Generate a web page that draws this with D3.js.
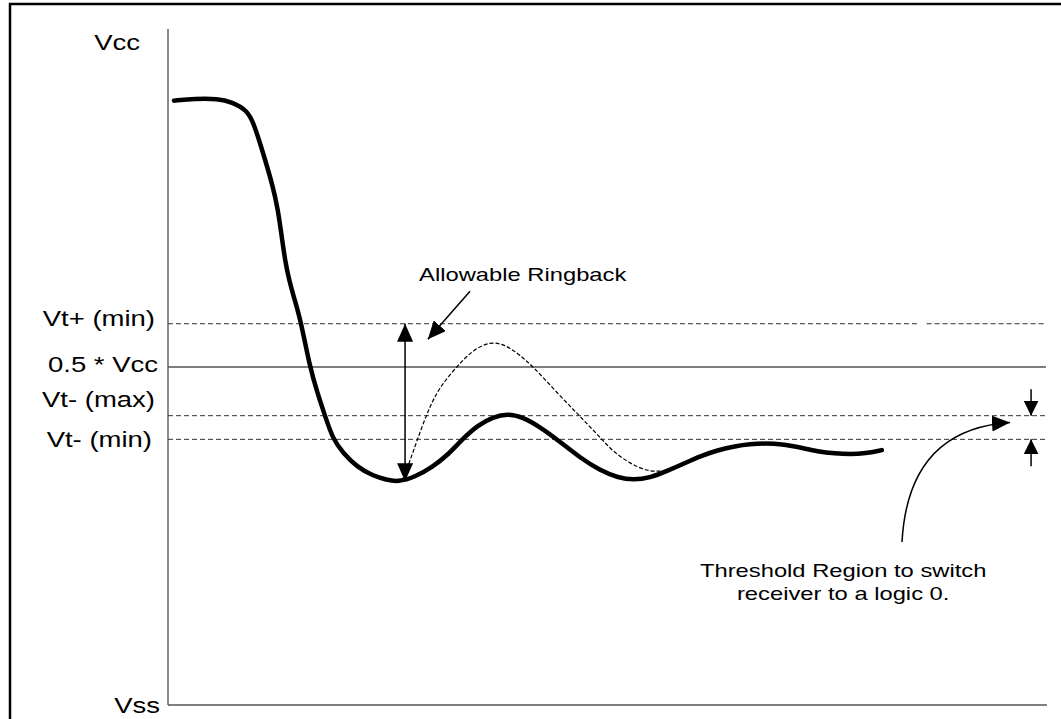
<!DOCTYPE html>
<html>
<head>
<meta charset="utf-8">
<script src="https://cdn.jsdelivr.net/npm/d3@7"></script>
<style>
  html, body { margin: 0; padding: 0; background: #fff; }
  svg { display: block; }
  text { font-family: "Liberation Sans", Arial, sans-serif; fill: #000; }
</style>
</head>
<body>
<svg id="chart" width="1061" height="719"></svg>
<script>
// ---- data (time in ns, voltage as fraction of Vcc) ----
const levelNames  = ["Vcc", "Vt+ (min)", "0.5 * Vcc", "Vt- (max)", "Vt- (min)", "Vss"];
const levelValues = [1.0, 0.564, 0.5, 0.428, 0.393, 0.0];

const signalTime = [0.68, 3.08, 5.69, 7.29, 9.0, 9.79, 10.82, 11.96, 12.53, 12.93, 13.33, 13.78, 14.41, 15.15,
  16.17, 17.08, 17.88, 18.79, 19.93, 21.53, 23.35, 24.9, 26.2, 28.1, 30.1, 31.8, 33.5, 35.3, 37.0, 38.7,
  40.4, 42.4, 44.6, 46.9, 49.2, 51.3, 53.0, 54.9, 56.8, 58.9, 60.6, 62.6, 64.6, 66.3, 68.0, 69.9, 72.0,
  74.0, 76.0, 77.7, 79.4, 81.3];
const signalVolt = [0.894, 0.897, 0.897, 0.892, 0.880, 0.860, 0.817, 0.767, 0.732, 0.695, 0.658, 0.629, 0.600, 0.567,
  0.499, 0.459, 0.428, 0.393, 0.373, 0.352, 0.339, 0.333, 0.330, 0.337, 0.352, 0.369, 0.393, 0.414, 0.426, 0.431,
  0.426, 0.411, 0.390, 0.366, 0.347, 0.336, 0.333, 0.336, 0.346, 0.358, 0.368, 0.377, 0.383, 0.386, 0.387, 0.386, 0.381,
  0.375, 0.372, 0.371, 0.372, 0.377];

const ringTime = [26.65, 27.22, 27.9, 28.82, 29.84, 30.98, 32.92, 34.62, 36.67, 38.38, 39.86, 41.57, 44.31, 46.92,
  49.2, 50.68, 52.62, 54.9, 56.95, 58.66];
const ringVolt = [0.332, 0.349, 0.374, 0.408, 0.442, 0.471, 0.501, 0.524, 0.538, 0.533, 0.520, 0.501, 0.462, 0.427,
  0.396, 0.375, 0.357, 0.344, 0.347, 0.356];

const ringbackLabel = "Allowable Ringback";
const thresholdLabel = ["Threshold Region to switch", "receiver to a logic 0."];

// ---- layout ----
const svg = d3.select("#chart");
const x = d3.scaleLinear().domain([0, 100]).range([168, 1046]);
const y = d3.scaleLinear().domain([0, 1]).range([705, 29]);

// defs: arrowheads
const defs = svg.append("defs");
defs.append("marker")
  .attr("id", "arrow")
  .attr("markerUnits", "userSpaceOnUse")
  .attr("viewBox", "0 0 18 16")
  .attr("refX", 18).attr("refY", 8)
  .attr("markerWidth", 18).attr("markerHeight", 16)
  .attr("orient", "auto-start-reverse")
  .append("path").attr("d", "M0,0 L18,8 L0,16 Z").attr("fill", "#000");
defs.append("marker")
  .attr("id", "arrowS")
  .attr("markerUnits", "userSpaceOnUse")
  .attr("viewBox", "0 0 15 15")
  .attr("refX", 15).attr("refY", 7.5)
  .attr("markerWidth", 15).attr("markerHeight", 15)
  .attr("orient", "auto-start-reverse")
  .append("path").attr("d", "M0,0 L15,7.5 L0,15 Z").attr("fill", "#000");

// frame
svg.append("path").attr("d", "M10,719 L10,4 L1061,4")
  .attr("fill", "none").attr("stroke", "#000").attr("stroke-width", 2.5);

// axes (left vertical and bottom)
svg.append("line").attr("x1", x(0)).attr("x2", x(0)).attr("y1", y(1)).attr("y2", y(0))
  .attr("stroke", "#666").attr("stroke-width", 1.5);
svg.append("line").attr("x1", x(0)).attr("x2", x(100.1)).attr("y1", y(0)).attr("y2", y(0))
  .attr("stroke", "#555").attr("stroke-width", 1.5);

// threshold level lines
const lvl = levelNames.map((n, i) => ({ name: n, v: levelValues[i] }));
lvl.filter(d => d.v > 0 && d.v < 1).forEach(d => {
  const solid = d.name === "0.5 * Vcc";
  const segs = d.name === "Vt+ (min)" ? [[0, 85.3], [86.4, 100]] : [[0, 100]];
  segs.forEach(s => {
    svg.append("line")
      .attr("x1", x(s[0])).attr("x2", x(s[1]))
      .attr("y1", y(d.v)).attr("y2", y(d.v))
      .attr("stroke", solid ? "#555" : "#333")
      .attr("stroke-width", solid ? 1.4 : 1)
      .attr("stroke-dasharray", solid ? null : "5,3");
  });
});

// level labels (right-aligned, horizontally stretched font)
const labelDx = { "Vcc": -28, "Vt+ (min)": -13, "0.5 * Vcc": -10, "Vt- (max)": -13, "Vt- (min)": -16, "Vss": -8 };
const labelDy = { "Vcc": 21, "Vt+ (min)": 2, "0.5 * Vcc": 5, "Vt- (max)": -9, "Vt- (min)": 8, "Vss": 8 };
lvl.forEach(d => {
  svg.append("text")
    .attr("transform", `translate(${x(0) + labelDx[d.name]},${y(d.v) + labelDy[d.name]}) scale(1.25,1)`)
    .attr("text-anchor", "end")
    .style("font-size", "22px")
    .text(d.name);
});

// signal curves
const line = d3.line().x(d => x(d[0])).y(d => y(d[1])).curve(d3.curveBasis);
const ring = ringTime.map((t, i) => [t, ringVolt[i]]);
svg.append("path").datum(ring).attr("d", line)
  .attr("fill", "none").attr("stroke", "#000").attr("stroke-width", 1.2)
  .attr("stroke-dasharray", "4,2");
const sig = signalTime.map((t, i) => [t, signalVolt[i]]);
svg.append("path").datum(sig).attr("d", line)
  .attr("fill", "none").attr("stroke", "#000").attr("stroke-width", 4.5)
  .attr("stroke-linecap", "round").attr("stroke-linejoin", "round");

// ringback double arrow
svg.append("line")
  .attr("x1", x(27.0)).attr("x2", x(27.0))
  .attr("y1", y(0.331)).attr("y2", y(levelValues[1]))
  .attr("stroke", "#000").attr("stroke-width", 1.5)
  .attr("marker-start", "url(#arrow)").attr("marker-end", "url(#arrow)");

// ringback label + pointer
svg.append("text")
  .attr("transform", `translate(${x(28.6)},281) scale(1.25,1)`)
  .style("font-size", "19px")
  .text(ringbackLabel);
svg.append("line")
  .attr("x1", x(34.4)).attr("y1", y(0.612))
  .attr("x2", x(29.6)).attr("y2", y(0.541))
  .attr("stroke", "#000").attr("stroke-width", 1.5)
  .attr("marker-end", "url(#arrow)");

// threshold region small arrows
svg.append("line")
  .attr("x1", x(98.3)).attr("x2", x(98.3))
  .attr("y1", y(0.467)).attr("y2", y(levelValues[3]))
  .attr("stroke", "#000").attr("stroke-width", 1.5)
  .attr("marker-end", "url(#arrowS)");
svg.append("line")
  .attr("x1", x(98.3)).attr("x2", x(98.3))
  .attr("y1", y(0.353)).attr("y2", y(levelValues[4]))
  .attr("stroke", "#000").attr("stroke-width", 1.5)
  .attr("marker-end", "url(#arrowS)");

// curved pointer
const p0 = [x(83.6), y(0.241)], c = [x(84.3), y(0.408)], p1 = [x(95.9), y(0.418)];
svg.append("path")
  .attr("d", `M${p0[0]},${p0[1]} Q${c[0]},${c[1]} ${p1[0]},${p1[1]}`)
  .attr("fill", "none").attr("stroke", "#000").attr("stroke-width", 1.5)
  .attr("marker-end", "url(#arrow)");

// threshold label
thresholdLabel.forEach((s, i) => {
  svg.append("text")
    .attr("transform", `translate(${x(76.9)},${577 + i * 23}) scale(1.25,1)`)
    .attr("text-anchor", "middle")
    .style("font-size", "19px")
    .text(s);
});
</script>
</body>
</html>
